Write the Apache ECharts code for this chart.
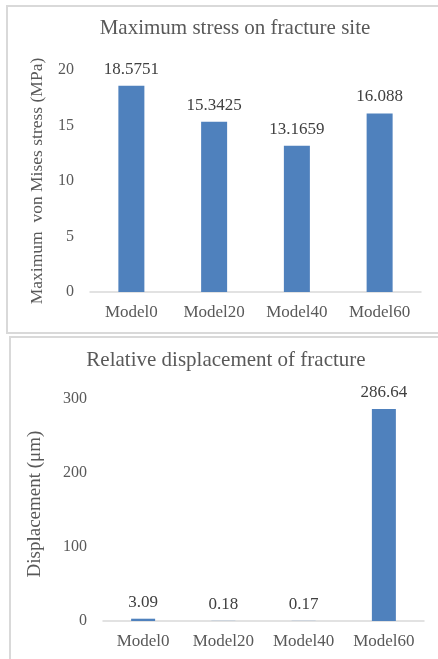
<!DOCTYPE html>
<html>
<head>
<meta charset="utf-8">
<script src="https://cdn.jsdelivr.net/npm/echarts@6/dist/echarts.min.js"></script>
<style>
  html, body { margin: 0; padding: 0; background: #ffffff; }
  #main { width: 438px; height: 659px; }
</style>
</head>
<body>
<div id="main"></div>
<script>
// categories shared by both panels
var models = ['Model0', 'Model20', 'Model40', 'Model60'];
// top panel: maximum von Mises stress (MPa)
var stressValues = [18.5751, 15.3425, 13.1659, 16.088];
// bottom panel: relative displacement (um)
var dispValues = [3.09, 0.18, 0.17, 286.64];

var serif = '"Liberation Serif", "Times New Roman", serif';
var barColor = '#4f81bd';
var textColor = '#595959';

var chart = echarts.init(document.getElementById('main'));
chart.setOption({
    animation: false,
    graphic: [
        // panel frames
        { type: 'rect', shape: { x: 7, y: 6, width: 440, height: 327 },
          style: { fill: 'none', stroke: '#d9d9d9', lineWidth: 2 } },
        { type: 'rect', shape: { x: 10, y: 337, width: 440, height: 340 },
          style: { fill: 'none', stroke: '#d9d9d9', lineWidth: 2 } }
    ],
    title: [
        { text: 'Maximum stress on fracture site', left: 230, top: 13, textAlign: 'center',
          textStyle: { fontFamily: serif, fontSize: 21, fontWeight: 'normal', color: textColor } },
        { text: 'Relative displacement of fracture', left: 221, top: 345, textAlign: 'center',
          textStyle: { fontFamily: serif, fontSize: 21, fontWeight: 'normal', color: textColor } }
    ],
    grid: [
        { left: 90, right: 17, top: 70, height: 222 },
        { left: 103, right: 14, top: 399, height: 222 }
    ],
    xAxis: [
        { type: 'category', gridIndex: 0, data: models,
          axisLine: { lineStyle: { color: '#d9d9d9', width: 1.5 } },
          axisTick: { show: false },
          axisLabel: { fontFamily: serif, fontSize: 17, color: textColor, margin: 12 } },
        { type: 'category', gridIndex: 1, data: models,
          axisLine: { lineStyle: { color: '#d9d9d9', width: 1.5 } },
          axisTick: { show: false },
          axisLabel: { fontFamily: serif, fontSize: 17, color: textColor, margin: 12 } }
    ],
    yAxis: [
        { type: 'value', gridIndex: 0, min: 0, max: 20, interval: 5,
          name: 'Maximum  von Mises stress (MPa)', nameLocation: 'middle', nameGap: 44,
          nameTextStyle: { fontFamily: serif, fontSize: 17.5, color: textColor },
          axisLine: { show: false }, axisTick: { show: false }, splitLine: { show: false },
          axisLabel: { fontFamily: serif, fontSize: 16, color: textColor, margin: 16 } },
        { type: 'value', gridIndex: 1, min: 0, max: 300, interval: 100,
          name: 'Displacement (μm)', nameLocation: 'middle', nameGap: 58,
          nameTextStyle: { fontFamily: serif, fontSize: 19, color: textColor, padding: [0, 0, 0, 12] },
          axisLine: { show: false }, axisTick: { show: false }, splitLine: { show: false },
          axisLabel: { fontFamily: serif, fontSize: 16, color: textColor, margin: 16 } }
    ],
    series: [
        { type: 'bar', xAxisIndex: 0, yAxisIndex: 0, data: stressValues, barWidth: 26,
          itemStyle: { color: barColor },
          label: { show: true, position: 'top', distance: 8, fontFamily: serif, fontSize: 17, color: '#404040' } },
        { type: 'bar', xAxisIndex: 1, yAxisIndex: 1, data: dispValues, barWidth: 24,
          itemStyle: { color: barColor },
          label: { show: true, position: 'top', distance: 8, fontFamily: serif, fontSize: 17, color: '#404040' } }
    ]
});
</script>
</body>
</html>
